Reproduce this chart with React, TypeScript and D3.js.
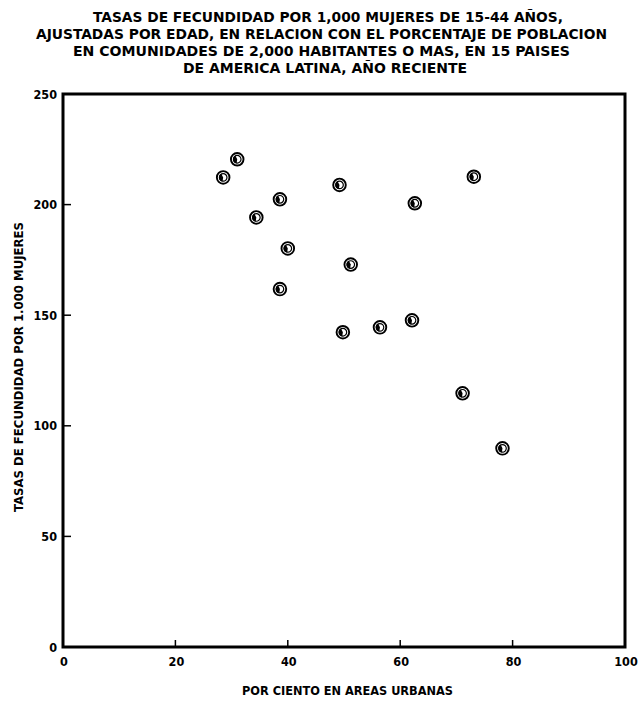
import React from "react";
import * as d3 from "d3";

const titleLines = [
  "TASAS DE FECUNDIDAD POR 1,000 MUJERES DE 15-44 AÑOS,",
  "AJUSTADAS POR EDAD, EN RELACION CON EL PORCENTAJE DE POBLACION",
  "EN COMUNIDADES DE 2,000 HABITANTES O MAS, EN 15 PAISES",
  "DE AMERICA LATINA, AÑO RECIENTE",
];
const xLabel = "POR CIENTO EN AREAS URBANAS";
const yLabel = "TASAS DE FECUNDIDAD POR 1.000 MUJERES";
const xTicks = [0, 20, 40, 60, 80, 100];
const yTicks = [0, 50, 100, 150, 200, 250];

const urbanPct = [28.5, 31.0, 34.4, 38.6, 40.0, 38.6, 49.2, 51.2, 49.8, 56.4, 62.1, 62.6, 73.1, 71.1, 78.2];
const fertility = [212.3, 220.5, 194.2, 202.4, 180.2, 161.8, 208.9, 172.9, 142.3, 144.5, 147.7, 200.6, 212.6, 114.7, 89.8];

const W = 644;
const H = 703;
const left = 63;
const right = 625;
const top = 94;
const bottom = 647;

const font = "'Liberation Sans Narrow', 'DejaVu Sans Condensed', 'Roboto', sans-serif";

const titleSpecs = [
  { x0: 93, x1: 563, y: 22 },
  { x0: 36, x1: 607, y: 39 },
  { x0: 73, x1: 570, y: 56 },
  { x0: 183, x1: 467, y: 73 },
];

export default function App() {
  const x = d3.scaleLinear().domain([0, 100]).range([left, right]);
  const y = d3.scaleLinear().domain([0, 250]).range([bottom, top]);
  const wedge = d3.arc()({
    innerRadius: 0,
    outerRadius: 4.2,
    startAngle: -Math.PI * 0.95,
    endAngle: -Math.PI * 0.15,
  } as any) as string;

  return (
    <svg
      width={W}
      height={H}
      style={{ position: "absolute", left: 0, top: 0, background: "#fff" }}
      fontFamily={font}
      fontWeight="bold"
    >
      <rect x={0} y={0} width={W} height={H} fill="#fff" />
      {titleLines.map((t, i) => (
        <text
          key={i}
          x={titleSpecs[i].x0}
          y={titleSpecs[i].y}
          fontSize={14}
          textLength={titleSpecs[i].x1 - titleSpecs[i].x0}
          lengthAdjust="spacingAndGlyphs"
          fill="#000"
        >
          {t}
        </text>
      ))}

      {/* frame */}
      <rect
        x={left}
        y={top}
        width={right - left}
        height={bottom - top}
        fill="none"
        stroke="#000"
        strokeWidth={3}
      />

      {/* y ticks */}
      {yTicks.map((v) => (
        <g key={"y" + v}>
          {v > 0 && v < 250 && (
            <line x1={left} x2={left + 8} y1={y(v)} y2={y(v)} stroke="#000" strokeWidth={1.5} />
          )}
          <text x={left - 6} y={y(v) + 4.5} textAnchor="end" fontSize={12.5} fill="#000">
            {v}
          </text>
        </g>
      ))}

      {/* x ticks */}
      {xTicks.map((v) => (
        <g key={"x" + v}>
          {v > 0 && v < 100 && (
            <line x1={x(v)} x2={x(v)} y1={bottom} y2={bottom - 7} stroke="#000" strokeWidth={1.5} />
          )}
          <text x={x(v) + 1} y={bottom + 19} textAnchor="middle" fontSize={12.5} fill="#000">
            {v}
          </text>
        </g>
      ))}

      <text
        x={242}
        y={695}
        fontSize={13}
        textLength={211}
        lengthAdjust="spacingAndGlyphs"
        fill="#000"
      >
        {xLabel}
      </text>
      <text
        transform={`translate(23, 512) rotate(-90)`}
        x={0}
        y={0}
        fontSize={13}
        textLength={290}
        lengthAdjust="spacingAndGlyphs"
        fill="#000"
      >
        {yLabel}
      </text>

      {urbanPct.map((u, i) => (
        <g key={"p" + i} transform={`translate(${x(u)},${y(fertility[i])})`}>
          <circle r={6.3} fill="#fff" stroke="#000" strokeWidth={1.9} />
          <circle r={3.8} fill="none" stroke="#000" strokeWidth={1.2} />
          <path d={wedge} fill="#000" />
        </g>
      ))}
    </svg>
  );
}
